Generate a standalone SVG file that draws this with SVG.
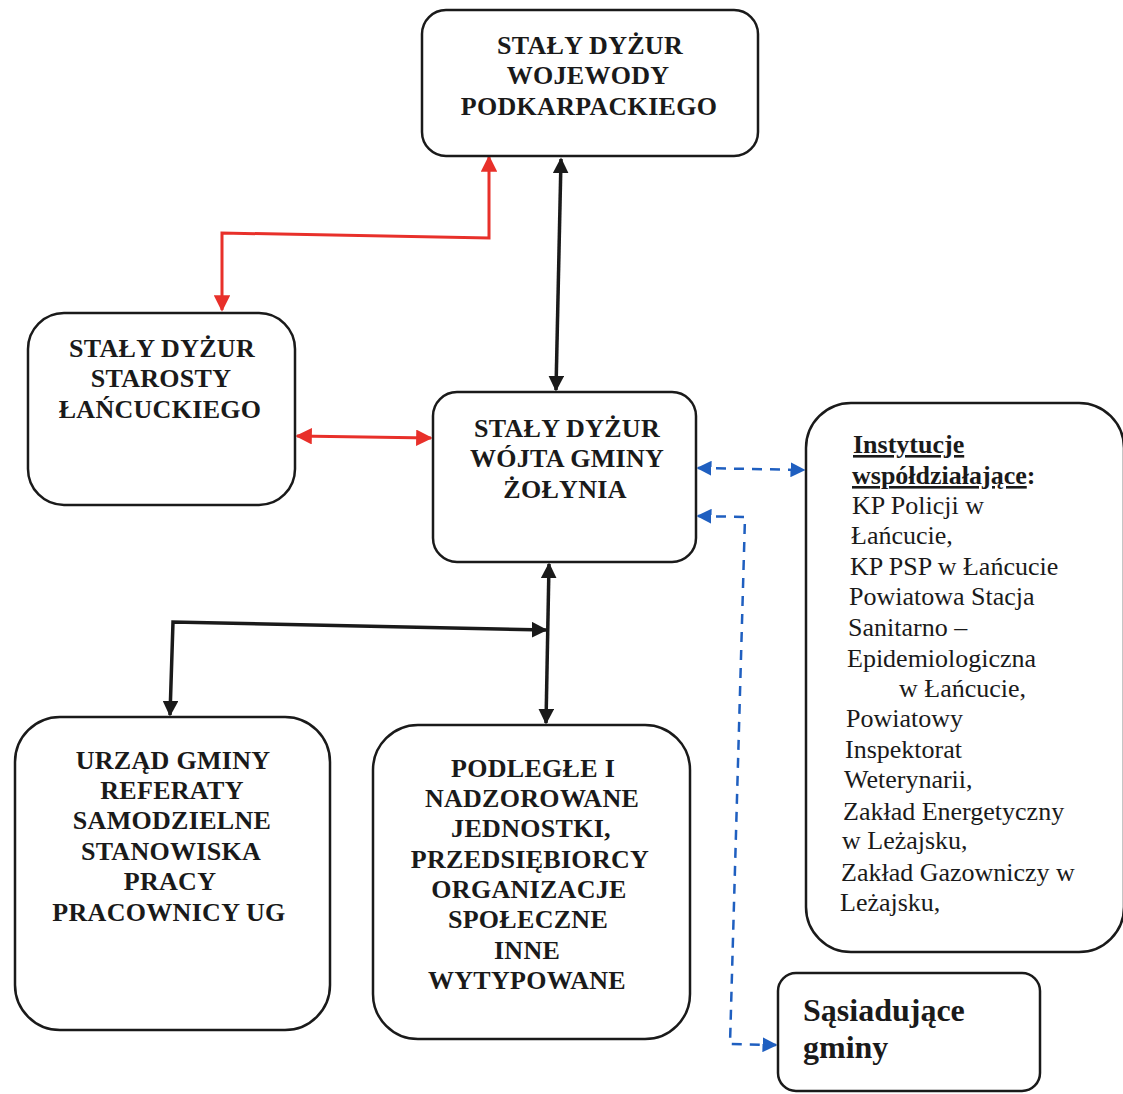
<svg xmlns="http://www.w3.org/2000/svg" width="1123" height="1094" viewBox="0 0 1123 1094">
<style>
.box{fill:#fff;stroke:#1a1a1a;stroke-width:2.5}
.t{font-family:"Liberation Serif","Times New Roman",serif;font-weight:bold;font-size:26px;letter-spacing:0.3px;fill:#1a1a1a;text-anchor:middle}
.r{font-family:"Liberation Serif","Times New Roman",serif;font-size:26px;fill:#1a1a1a}
.k{stroke:#1a1a1a;stroke-width:3.5;fill:none}
.red{stroke:#e8302a;stroke-width:3;fill:none}
.blue{stroke:#1f5fc0;stroke-width:2.5;fill:none;stroke-dasharray:10,8}
</style>
<defs>
<marker id="ak" viewBox="0 0 10 10" refX="9" refY="5" markerWidth="4.5" markerHeight="4.5" orient="auto-start-reverse" markerUnits="strokeWidth"><path d="M0,0L10,5L0,10z" fill="#1a1a1a"/></marker>
<marker id="ar" viewBox="0 0 10 10" refX="9" refY="5" markerWidth="5.5" markerHeight="5.5" orient="auto-start-reverse" markerUnits="strokeWidth"><path d="M0,0L10,5L0,10z" fill="#e8302a"/></marker>
<marker id="ab" viewBox="0 0 10 10" refX="9" refY="5" markerWidth="6" markerHeight="6" orient="auto-start-reverse" markerUnits="strokeWidth"><path d="M0,0L10,5L0,10z" fill="#1f5fc0"/></marker>
</defs>
<rect width="1123" height="1094" fill="#fff"/>
<g id="connectors">
<path class="red" d="M222,310 L222,233 L489,238 L489,157" marker-start="url(#ar)" marker-end="url(#ar)"/>
<path class="k" d="M561,159 L556,390" marker-start="url(#ak)" marker-end="url(#ak)"/>
<path class="red" d="M297,436 L431,438" marker-start="url(#ar)" marker-end="url(#ar)"/>
<path class="k" d="M549,564 L546,723" marker-start="url(#ak)" marker-end="url(#ak)"/>
<path class="k" d="M170,715 L173,622 L546,630" marker-start="url(#ak)" marker-end="url(#ak)"/>
<path class="blue" d="M698,468 L804,470" marker-start="url(#ab)" marker-end="url(#ab)"/>
<path class="blue" d="M698,516 L745,517 L730,1044 L776,1045" marker-start="url(#ab)" marker-end="url(#ab)"/>
</g>
<g id="wojewoda">
<rect class="box" x="422" y="10" width="336" height="146" rx="24"/>
<text class="t" x="590" y="54">STAŁY DYŻUR</text>
<text class="t" x="588" y="84">WOJEWODY</text>
<text class="t" x="589" y="115">PODKARPACKIEGO</text>
</g>
<g id="starosta">
<rect class="box" x="28" y="313" width="267" height="192" rx="36"/>
<text class="t" x="162" y="357">STAŁY DYŻUR</text>
<text class="t" x="161" y="387">STAROSTY</text>
<text class="t" x="160" y="418">ŁAŃCUCKIEGO</text>
</g>
<g id="wojt">
<rect class="box" x="433" y="392" width="263" height="170" rx="24"/>
<text class="t" x="567" y="437">STAŁY DYŻUR</text>
<text class="t" x="567" y="467">WÓJTA GMINY</text>
<text class="t" x="565" y="498">ŻOŁYNIA</text>
</g>
<g id="instytucje">
<rect class="box" x="806" y="403" width="318" height="549" rx="45"/>
<text class="r" x="853" y="453" font-weight="bold" text-decoration="underline">Instytucje</text>
<text class="r" x="852" y="484" font-weight="bold"><tspan text-decoration="underline">współdziałające</tspan>:</text>
<text class="r" x="852" y="514">KP Policji w</text>
<text class="r" x="851" y="544">Łańcucie,</text>
<text class="r" x="850" y="575">KP PSP w Łańcucie</text>
<text class="r" x="849" y="605">Powiatowa Stacja</text>
<text class="r" x="848" y="636">Sanitarno –</text>
<text class="r" x="847" y="667">Epidemiologiczna</text>
<text class="r" x="899" y="697">w Łańcucie,</text>
<text class="r" x="846" y="727">Powiatowy</text>
<text class="r" x="845" y="758">Inspektorat</text>
<text class="r" x="844" y="788">Weterynarii,</text>
<text class="r" x="843" y="820">Zakład Energetyczny</text>
<text class="r" x="842" y="849">w Leżajsku,</text>
<text class="r" x="841" y="881">Zakład Gazowniczy w</text>
<text class="r" x="840" y="911">Leżajsku,</text>
</g>
<g id="sasiadujace">
<rect class="box" x="778" y="973" width="262" height="118" rx="18"/>
<text class="t" x="803" y="1021" style="text-anchor:start;font-size:32px;letter-spacing:0">Sąsiadujące</text>
<text class="t" x="803" y="1058" style="text-anchor:start;font-size:32px;letter-spacing:0">gminy</text>
</g>
<g id="urzad">
<rect class="box" x="15" y="717" width="315" height="313" rx="45"/>
<text class="t" x="173" y="769">URZĄD GMINY</text>
<text class="t" x="172" y="799">REFERATY</text>
<text class="t" x="172" y="829">SAMODZIELNE</text>
<text class="t" x="171" y="860">STANOWISKA</text>
<text class="t" x="170" y="890">PRACY</text>
<text class="t" x="169" y="921">PRACOWNICY UG</text>
</g>
<g id="podlegle">
<rect class="box" x="373" y="725" width="317" height="314" rx="45"/>
<text class="t" x="533" y="777">PODLEGŁE I</text>
<text class="t" x="532" y="807">NADZOROWANE</text>
<text class="t" x="531" y="837">JEDNOSTKI,</text>
<text class="t" x="530" y="868">PRZEDSIĘBIORCY</text>
<text class="t" x="529" y="898">ORGANIZACJE</text>
<text class="t" x="528" y="928">SPOŁECZNE</text>
<text class="t" x="527" y="959">INNE</text>
<text class="t" x="527" y="989">WYTYPOWANE</text>
</g>
</svg>
